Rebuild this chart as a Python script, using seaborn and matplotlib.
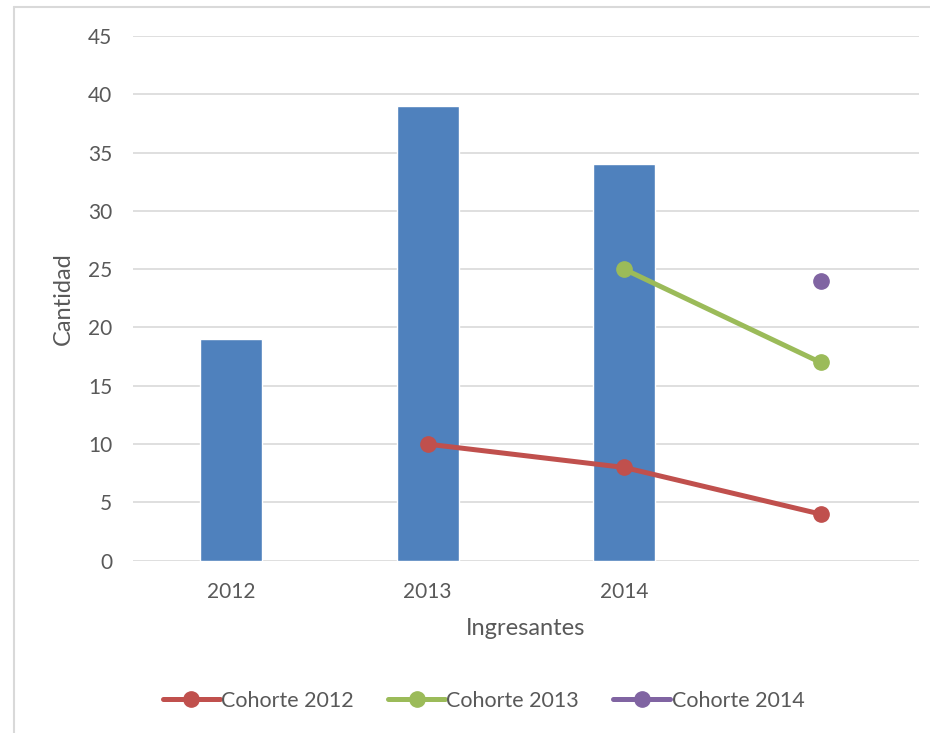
import matplotlib
matplotlib.use("Agg")
import matplotlib.pyplot as plt
import seaborn as sns
import numpy as np
import pandas as pd
from matplotlib.lines import Line2D

# categories on the x axis (the last slot has no label)
categories = ["2012", "2013", "2014", " "]
ingresantes = [19, 39, 34]

# cohort series: values per category (None = no point)
cohorte_2012 = [None, 10, 8, 4]
cohorte_2013 = [None, None, 25, 17]
cohorte_2014 = [None, None, None, 24]
series_labels = ["Cohorte 2012", "Cohorte 2013", "Cohorte 2014"]
series_colors = ["#C0504D", "#9BBB59", "#8064A2"]

sns.set_theme(style="white")
plt.rcParams["font.family"] = ["Lato", "DejaVu Sans"]
text_color = "#595959"

fig = plt.figure(figsize=(9.3, 7.33), dpi=100)
ax = fig.add_axes([0.143, 0.235, 0.845, 0.716])

df = pd.DataFrame({"anio": categories[:3], "cantidad": ingresantes})
sns.barplot(data=df, x="anio", y="cantidad", order=categories, color="#4F81BD",
            saturation=1, width=0.315, ax=ax, zorder=2)

for vals, label, color in zip([cohorte_2012, cohorte_2013, cohorte_2014], series_labels, series_colors):
    xs = [i for i, v in enumerate(vals) if v is not None]
    ys = [v for v in vals if v is not None]
    ax.plot(xs, ys, color=color, lw=3.6, marker="o", markersize=11, zorder=3, label=label)

ax.set_xlim(-0.5, 3.5)
ax.set_ylim(0, 45)
ax.set_yticks(np.arange(0, 46, 5))
ax.yaxis.grid(True, color="#D9D9D9", lw=1.2, zorder=0)
ax.set_axisbelow(True)
for s in ax.spines.values():
    s.set_visible(False)
ax.tick_params(axis="both", length=0, labelsize=15, labelcolor=text_color)
ax.tick_params(axis="x", pad=15)
ax.tick_params(axis="y", pad=15)
ax.set_xlabel("Ingresantes", fontsize=17, color=text_color, labelpad=12)
ax.set_ylabel("Cantidad", fontsize=17, color=text_color, labelpad=10)

handles = [Line2D([0], [0], color=c, lw=3.6, marker="o", markersize=11) for c in series_colors]
fig.legend(handles, series_labels, loc="center", bbox_to_anchor=(0.52, 0.044), ncol=3,
           frameon=False, fontsize=15.5, labelcolor=text_color, handlelength=2.65,
           handletextpad=0.05, columnspacing=1.6)

# chart area border (left and top visible)
fig.add_artist(Line2D([14 / 930, 14 / 930], [0, 1 - 7 / 733], transform=fig.transFigure,
                      color="#D9D9D9", lw=1.5))
fig.add_artist(Line2D([14 / 930, 1], [1 - 7 / 733, 1 - 7 / 733], transform=fig.transFigure,
                      color="#D9D9D9", lw=1.5))

fig.savefig("out.png", dpi=100)
